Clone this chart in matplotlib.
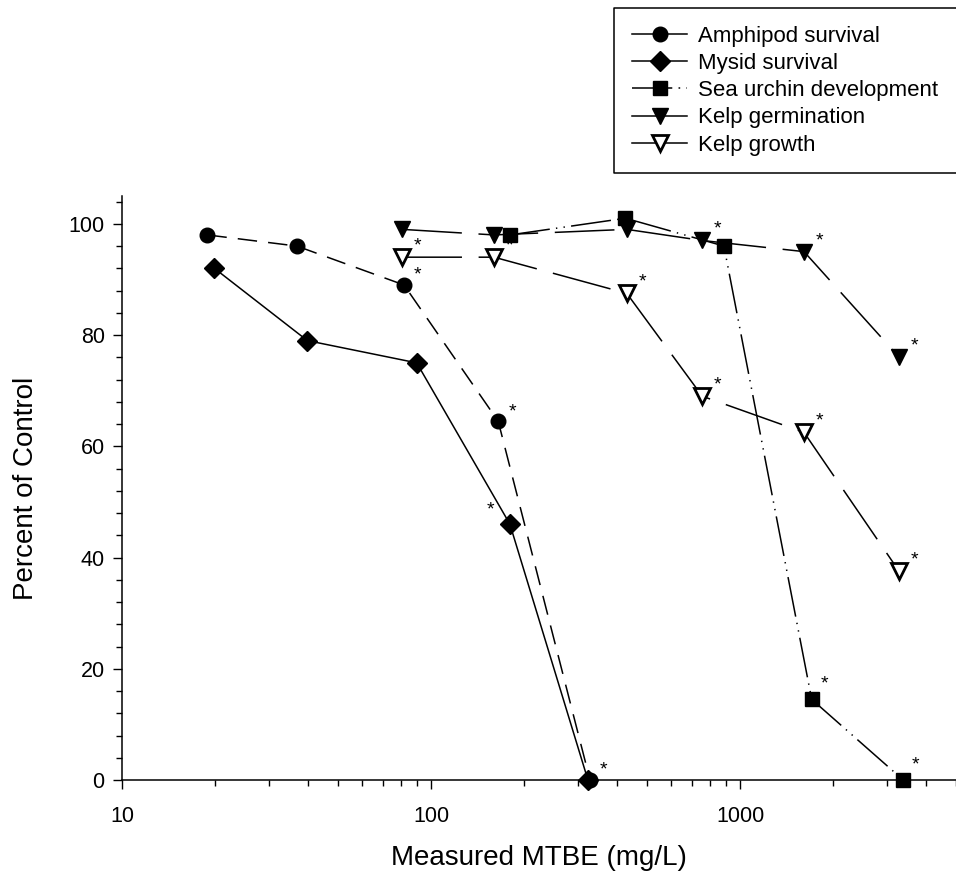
import matplotlib
matplotlib.use('Agg')
import matplotlib.pyplot as plt
from matplotlib.lines import Line2D
from matplotlib.ticker import MultipleLocator, LogLocator, FixedLocator, NullFormatter

plt.rcParams['font.family'] = ['Liberation Sans', 'DejaVu Sans']
plt.rcParams['lines.scale_dashes'] = False

# data (MTBE mg/L, percent of control, significance flag)
amph_x = [18.9, 36.8, 81.8, 165, 327]
amph_y = [98, 96, 89, 64.5, 0]
amph_sig = [False, False, True, True, True]

mysid_x = [19.9, 39.8, 89.9, 180, 322]
mysid_y = [92, 79, 75, 46, 0]
mysid_sig = [False, False, False, True, False]

urchin_x = [180, 426, 887, 1706, 3374]
urchin_y = [98, 101, 96, 14.5, 0]
urchin_sig = [False, False, False, True, True]

germ_x = [80.7, 160, 430, 755, 1611, 3275]
germ_y = [99, 98, 99, 97, 95, 76]
germ_sig = [False, False, False, True, True, True]

growth_x = [80.7, 160, 430, 755, 1611, 3275]
growth_y = [94, 94, 87.5, 69, 62.5, 37.5]
growth_sig = [True, True, True, True, True, True]

labels = ['Amphipod survival', 'Mysid survival', 'Sea urchin development',
          'Kelp germination', 'Kelp growth']

fig = plt.figure(figsize=(9.56, 8.76), dpi=100)
ax = fig.add_axes([122/956, 1-780/876, 1-122/956, (780-196)/876])

lw = 1.1
series = [
    (amph_x, amph_y, amph_sig, dict(marker='o', ms=10.5, mfc='black', ls=(0, (14, 8))), (10, 7)),
    (mysid_x, mysid_y, mysid_sig, dict(marker='D', ms=10.5, mfc='black', ls='-'), (-14, 10)),
    (urchin_x, urchin_y, urchin_sig, dict(marker='s', ms=10, mfc='black', ls=(0, (29, 4.5, 1, 4.5, 1, 4.5))), (9, 11)),
    (germ_x, germ_y, germ_sig, dict(marker='v', ms=11, mfc='black', ls=(0, (43, 12))), (11, 8)),
    (growth_x, growth_y, growth_sig, dict(marker='v', ms=11, mfc='white', mew=2, ls=(0, (43, 12))), (11, 8)),
]

handles = []
for (xs, ys, sig, st, off), lab in zip(series, labels):
    ax.plot(xs, ys, color='black', mec='black', lw=lw, clip_on=False, zorder=3, **st)
    for x, y, s in zip(xs, ys, sig):
        if s:
            ax.annotate('*', (x, y), xytext=off, textcoords='offset points',
                        ha='center', va='center', fontsize=14)
    hst = dict(st)
    if lab != 'Sea urchin development':
        hst['ls'] = '-'
    else:
        hst['ls'] = (0, (29, 4.5, 1.2, 4.5, 1.2, 4.5))
    handles.append(Line2D([], [], color='black', mec='black', lw=lw, **hst))

ax.set_xscale('log')
ax.set_xlim(10, 5000)
ax.set_ylim(0, 105)
ax.xaxis.set_major_locator(FixedLocator([10, 100, 1000]))
ax.xaxis.set_minor_locator(LogLocator(base=10, subs=range(2, 10)))
ax.xaxis.set_minor_formatter(NullFormatter())
ax.set_xticklabels(['10', '100', '1000'])
ax.yaxis.set_major_locator(MultipleLocator(20))
ax.yaxis.set_minor_locator(MultipleLocator(4))

for side in ['top', 'right']:
    ax.spines[side].set_visible(False)
for side in ['left', 'bottom']:
    ax.spines[side].set_linewidth(1.1)
ax.tick_params(which='major', direction='out', length=6.5, width=1, labelsize=15.5)
ax.tick_params(axis='x', which='major', pad=12)
ax.tick_params(axis='y', which='major', pad=6)
ax.tick_params(which='minor', direction='out', length=4.2, width=1)

ax.set_xlabel('Measured MTBE (mg/L)', fontsize=20, labelpad=13)
ax.set_ylabel('Percent of Control', fontsize=20, labelpad=21)

leg = fig.legend(handles, labels, loc='upper left',
                 bbox_to_anchor=(614/956, 1-8/876), fontsize=16, frameon=False,
                 handlelength=2.5, handletextpad=0.5, labelspacing=0.28,
                 borderpad=0.8, borderaxespad=0)

# legend box drawn as an open line so it runs off the right edge like the original
fig.canvas.draw()
bb = leg.get_window_extent().transformed(fig.transFigure.inverted())
fig.add_artist(Line2D([1.05, bb.x0, bb.x0, 1.05], [bb.y1, bb.y1, bb.y0, bb.y0],
                      transform=fig.transFigure, color='black', lw=1.1))

fig.savefig('out.png', dpi=100)
